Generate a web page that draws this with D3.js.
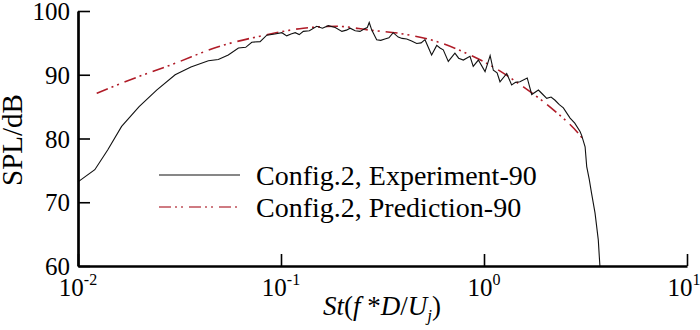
<!DOCTYPE html>
<html>
<head>
<meta charset="utf-8">
<script src="https://cdn.jsdelivr.net/npm/d3@7"></script>
<style>
  body { margin: 0; background: #fff; }
</style>
</head>
<body>
<svg id="chart" width="700" height="330"></svg>
<script>
// experiment (black) - St and SPL
var stExp = [0.0100, 0.0121, 0.0140, 0.0164, 0.0200, 0.0244, 0.0301, 0.0360, 0.0439, 0.0491, 0.0550, 0.0617, 0.0670,
  0.0718, 0.0789, 0.0851, 0.0933, 0.1010, 0.1067, 0.1120, 0.1175, 0.1230, 0.1288, 0.1380, 0.150, 0.160, 0.171, 0.185,
  0.1995, 0.210, 0.219, 0.232, 0.245, 0.258, 0.266, 0.272, 0.280, 0.296, 0.310, 0.325, 0.340, 0.357, 0.378, 0.395,
  0.416, 0.440, 0.466, 0.490, 0.512, 0.552, 0.585, 0.607, 0.630, 0.667, 0.719, 0.750, 0.791, 0.853, 0.885, 0.938,
  1.012, 1.072, 1.112, 1.160, 1.199, 1.294, 1.368, 1.430, 1.503, 1.633, 1.718, 1.854, 1.950, 2.037, 2.140, 2.239,
  2.350, 2.460, 2.655, 2.800, 2.972, 3.027, 3.148, 3.206, 3.300, 3.388, 3.524, 3.656, 3.698, 3.724];
var splExp = [73.2, 75.1, 78.2, 81.9, 85.0, 87.6, 90.0, 91.2, 92.2, 92.4, 93.1, 94.2, 94.3,
  95.1, 95.2, 96.2, 96.4, 96.6, 96.1, 96.4, 96.6, 96.3, 96.8, 96.9, 97.6, 97.3, 97.7, 97.4,
  96.8, 97.0, 97.3, 96.9, 96.8, 97.2, 97.4, 98.2, 97.0, 95.5, 95.4, 95.6, 95.8, 96.6, 95.9, 95.7,
  95.6, 95.3, 94.9, 95.0, 95.5, 93.1, 94.6, 94.2, 93.9, 92.1, 93.4, 92.6, 92.3, 92.9, 91.3, 92.3,
  90.5, 93.0, 90.7, 90.3, 88.9, 90.2, 88.4, 88.8, 88.9, 89.5, 86.9, 87.6, 86.9, 86.3, 86.5, 86.0,
  85.3, 84.8, 83.2, 82.4, 81.1, 80.5, 78.7, 75.6, 73.6, 71.4, 68.3, 64.1, 61.5, 60.0];

// prediction (red dash-dot-dot)
var stPred = [0.01236, 0.01706, 0.0301, 0.0491, 0.0804, 0.1288, 0.188, 0.274, 0.400, 0.585, 0.853, 1.072, 1.563, 2.198, 2.972, 3.06];
var splPred = [87.1, 88.9, 91.8, 94.4, 96.1, 97.3, 97.6, 97.0, 96.4, 95.2, 93.1, 91.5, 88.1, 84.5, 80.5, 80.0];

var yTicks = [60, 70, 80, 90, 100];
var yMinor = [62, 64, 66, 68, 72, 74, 76, 78, 82, 84, 86, 88, 92, 94, 96, 98];
var xExps = [-2, -1, 0, 1];
var seriesNames = ["Config.2, Experiment-90", "Config.2, Prediction-90"];

var margin = { left: 78, right: 13, top: 11, bottom: 64 };
var width = 700, height = 330;

var svg = d3.select("#chart");

var x = d3.scaleLog().domain([0.01, 10]).range([margin.left, width - margin.right]);
var y = d3.scaleLinear().domain([60, 100]).range([height - margin.bottom, margin.top]);

var xMinor = [];
xExps.slice(0, 3).forEach(function(e) {
  for (var k = 2; k <= 9; k++) xMinor.push(k * Math.pow(10, e));
});

var line = d3.line()
  .x(function(d) { return x(d[0]); })
  .y(function(d) { return y(d[1]); });

// curves
svg.append("path")
  .datum(d3.zip(stPred, splPred))
  .attr("fill", "none")
  .attr("stroke", "#b01c28")
  .attr("stroke-width", 1.6)
  .attr("stroke-dasharray", "12,4,2,4,2,6")
  .attr("d", line.curve(d3.curveMonotoneX));

svg.append("path")
  .datum(d3.zip(stExp, splExp))
  .attr("fill", "none")
  .attr("stroke", "#111")
  .attr("stroke-width", 1.1)
  .attr("d", line.curve(d3.curveLinear));

// axes
var gx = svg.append("g").attr("transform", `translate(0,${height - margin.bottom})`);
gx.call(d3.axisBottom(x).tickValues(xMinor).tickSize(-6).tickSizeOuter(0).tickFormat(""));
gx.call(d3.axisBottom(x).tickValues(xExps.map(function(e) { return Math.pow(10, e); })).tickSize(-12).tickSizeOuter(0).tickFormat(""));

var gy = svg.append("g").attr("transform", `translate(${margin.left},0)`);
gy.call(d3.axisLeft(y).tickValues(yMinor).tickSize(-6).tickSizeOuter(0).tickFormat(""));
gy.call(d3.axisLeft(y).tickValues(yTicks).tickSize(-12).tickSizeOuter(0).tickPadding(8).tickFormat(d3.format("d")));

svg.selectAll(".domain").attr("stroke", "#000").attr("stroke-width", 2.7);
svg.selectAll(".tick line").attr("stroke", "#000").attr("stroke-width", 1.6);
gy.selectAll(".tick text")
  .attr("font-size", 25)
  .attr("dy", "0.34em")
  .attr("fill", "#000");

// x tick labels with superscripts
xExps.forEach(function(e) {
  var t = svg.append("text")
    .attr("x", x(Math.pow(10, e)) - (e === 1 ? 3 : 0))
    .attr("y", 296)
    .attr("text-anchor", "middle")
    .attr("font-size", 25);
  t.append("tspan").text("10");
  t.append("tspan").attr("font-size", 16).attr("dy", -11).text(e < 0 ? "-" + (-e) : String(e));
});

// axis titles
svg.append("text")
  .attr("transform", "translate(22,140) rotate(-90)")
  .attr("text-anchor", "middle")
  .attr("font-size", 29)
  .text("SPL/dB");

var xt = svg.append("text")
  .attr("x", 382)
  .attr("y", 315)
  .attr("text-anchor", "middle")
  .attr("font-size", 27);
xt.append("tspan").attr("font-style", "italic").text("St");
xt.append("tspan").text("(");
xt.append("tspan").attr("font-style", "italic").text("f ");
xt.append("tspan").text("*");
xt.append("tspan").attr("font-style", "italic").text("D");
xt.append("tspan").text("/");
xt.append("tspan").attr("font-style", "italic").text("U");
xt.append("tspan").attr("font-style", "italic").attr("font-size", 17).attr("dy", 6).text("j");
xt.append("tspan").attr("dy", -6).text(")");

// legend
var legend = svg.append("g");
var legY = [175, 207];
legend.append("line")
  .attr("x1", 159).attr("x2", 240).attr("y1", legY[0]).attr("y2", legY[0])
  .attr("stroke", "#111").attr("stroke-width", 1.1);
legend.append("line")
  .attr("x1", 159).attr("x2", 240).attr("y1", legY[1]).attr("y2", legY[1])
  .attr("stroke", "#c0505a").attr("stroke-width", 1.6)
  .attr("stroke-dasharray", "12,4,2,4,2,6");
seriesNames.forEach(function(name, i) {
  legend.append("text")
    .attr("x", 256)
    .attr("y", legY[i] + 10)
    .attr("font-size", 28)
    .text(name);
});

// Times-like font everywhere
svg.selectAll("text").style("font-family", "Liberation Serif").style("fill", "#000");
</script>
</body>
</html>
